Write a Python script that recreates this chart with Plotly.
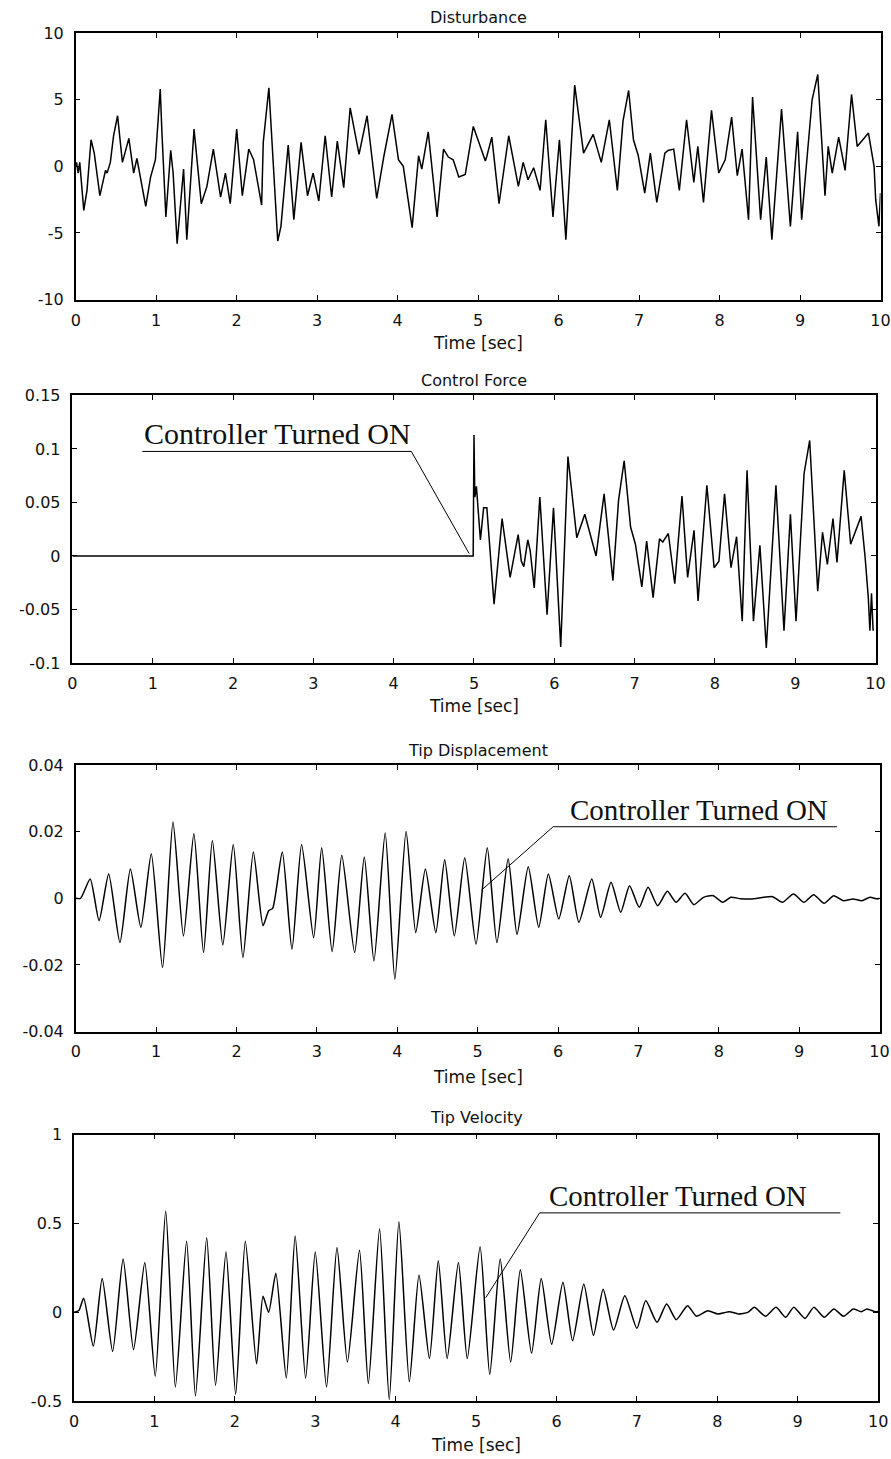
import plotly.graph_objects as go

# ---------------- data ----------------
time_ticks = [0, 1, 2, 3, 4, 5, 6, 7, 8, 9, 10]
time_tick_labels = ["0", "1", "2", "3", "4", "5", "6", "7", "8", "9", "10"]

dist_ticks = [10, 5, 0, -5, -10]
dist_tick_labels = ["10", "5", "0", "-5", "-10"]
force_ticks = [0.15, 0.1, 0.05, 0, -0.05, -0.1]
force_tick_labels = ["0.15", "0.1", "0.05", "0", "-0.05", "-0.1"]
disp_ticks = [0.04, 0.02, 0, -0.02, -0.04]
disp_tick_labels = ["0.04", "0.02", "0", "-0.02", "-0.04"]
vel_ticks = [1, 0.5, 0, -0.5]
vel_tick_labels = ["1", "0.5", "0", "-0.5"]

titles = ["Disturbance", "Control Force", "Tip Displacement", "Tip Velocity"]
x_title = "Time [sec]"
note_text = "Controller Turned ON"

dist_t = [0, 0.01, 0.03, 0.05, 0.10, 0.14, 0.19, 0.23, 0.30, 0.37, 0.39, 0.43, 0.47, 0.52, 0.58,
          0.66, 0.72, 0.76, 0.87, 0.93, 0.99, 1.02, 1.05, 1.07, 1.12, 1.18, 1.21, 1.26, 1.34, 1.38,
          1.47, 1.56, 1.63, 1.71, 1.80, 1.86, 1.92, 2.00, 2.07, 2.15, 2.21, 2.31, 2.33, 2.40, 2.48,
          2.51, 2.55, 2.64, 2.71, 2.80, 2.88, 2.95, 3.02, 3.10, 3.18, 3.25, 3.33, 3.41, 3.52, 3.62,
          3.74, 3.83, 3.93, 4.01, 4.07, 4.18, 4.26, 4.30, 4.38, 4.49, 4.57, 4.63, 4.69, 4.76, 4.84,
          4.94, 5.09, 5.11, 5.17, 5.26, 5.38, 5.50, 5.56, 5.62, 5.69, 5.77, 5.84, 5.93, 6.01, 6.09,
          6.20, 6.31, 6.43, 6.53, 6.63, 6.66, 6.73, 6.80, 6.87, 6.93, 6.99, 7.07, 7.14, 7.22, 7.32,
          7.36, 7.43, 7.50, 7.59, 7.68, 7.73, 7.80, 7.90, 7.99, 8.07, 8.15, 8.22, 8.28, 8.36, 8.41,
          8.51, 8.58, 8.65, 8.77, 8.88, 8.97, 9.02, 9.15, 9.22, 9.31, 9.35, 9.40, 9.48, 9.56, 9.64,
          9.71, 9.81, 9.85, 9.92, 9.94, 9.98, 10.0]
dist_v = [0, 0.3, -0.5, 0.3, -3.3, -1.8, 2.0, 1.0, -2.2, -0.3, -0.5, 0.3, 2.3, 3.8, 0.3,
          2.1, -0.5, 0.6, -3.0, -0.8, 0.5, 3.0, 5.8, 2.7, -3.8, 1.2, -0.5, -5.8, -0.2, -5.5,
          2.8, -2.8, -1.5, 1.3, -2.3, -0.5, -2.8, 2.8, -2.2, 1.3, 0.5, -2.9, 1.8, 5.9, -3.0,
          -5.6, -4.5, 1.6, -4.0, 1.8, -2.2, -0.5, -2.6, 2.3, -2.3, 1.9, -1.6, 4.4, 0.9, 3.8,
          -2.4, 0.8, 3.9, 0.5, 0.0, -4.6, 0.8, -0.2, 2.6, -3.8, 1.3, 0.7, 0.5, -0.8, -0.6,
          3.0, 0.4, 0.8, 2.2, -2.8, 2.3, -1.5, 0.3, -1.0, -0.1, -1.8, 3.5, -3.8, 2.0, -5.5,
          6.1, 1.0, 2.4, 0.3, 3.5, 2.0, -1.8, 3.4, 5.7, 2.0, 0.8, -2.0, 1.0, -2.7, 1.0,
          1.2, 1.3, -1.8, 3.5, -1.2, 1.5, -2.7, 4.2, -0.5, 0.5, 3.7, -0.7, 1.3, -4.0, 5.2,
          -4.0, 0.7, -5.5, 4.3, -4.5, 2.6, -4.0, 5.0, 6.9, -2.2, 1.5, -0.5, 2.2, -0.3, 5.4,
          1.5, 2.2, 2.5, 0.0, -2.5, -4.5, -2.0]

force_t = [0, 4.99, 5.00, 5.01, 5.03, 5.08, 5.12, 5.16, 5.25, 5.35, 5.45, 5.49, 5.55, 5.59, 5.62,
           5.67, 5.70, 5.75, 5.82, 5.91, 5.99, 6.08, 6.17, 6.28, 6.38, 6.52, 6.62, 6.73, 6.80, 6.87,
           6.95, 7.01, 7.09, 7.15, 7.23, 7.31, 7.35, 7.42, 7.50, 7.59, 7.66, 7.74, 7.79, 7.90, 7.99,
           8.05, 8.12, 8.20, 8.27, 8.34, 8.40, 8.48, 8.56, 8.64, 8.76, 8.86, 8.94, 9.01, 9.11, 9.18,
           9.28, 9.34, 9.40, 9.47, 9.52, 9.61, 9.69, 9.82, 9.87, 9.91, 9.93, 9.95, 9.97]
force_v = [0, 0, 0.113, 0.055, 0.065, 0.015, 0.045, 0.045, -0.045, 0.035, -0.02, -0.005, 0.02, -0.005, -0.01,
           0.015, 0.005, -0.03, 0.055, -0.055, 0.045, -0.085, 0.093, 0.017, 0.039, 0.0, 0.058, -0.023, 0.052, 0.089,
           0.027, 0.011, -0.029, 0.014, -0.039, 0.016, 0.013, 0.021, -0.026, 0.056, -0.02, 0.024, -0.042, 0.066, -0.011,
           -0.005, 0.058, -0.011, 0.018, -0.061, 0.08, -0.061, 0.01, -0.086, 0.066, -0.07, 0.039, -0.061, 0.077, 0.108,
           -0.033, 0.022, -0.008, 0.035, -0.006, 0.08, 0.011, 0.037, -0.001, -0.039, -0.07, -0.035, -0.07]

disp_t = [0, 0.06, 0.18, 0.29, 0.41, 0.55, 0.68, 0.81, 0.94, 1.08, 1.21, 1.34, 1.47, 1.59, 1.70,
          1.83, 1.96, 2.08, 2.21, 2.33, 2.40, 2.45, 2.57, 2.69, 2.81, 2.96, 3.06, 3.19, 3.31, 3.47,
          3.59, 3.71, 3.85, 3.97, 4.11, 4.23, 4.35, 4.48, 4.59, 4.71, 4.84, 4.98, 5.12, 5.24, 5.38,
          5.49, 5.63, 5.76, 5.88, 6.01, 6.14, 6.26, 6.42, 6.53, 6.66, 6.78, 6.89, 7.01, 7.12, 7.24,
          7.36, 7.47, 7.58, 7.69, 7.81, 7.93, 8.05, 8.15, 8.27, 8.40, 8.56, 8.67, 8.79, 8.93, 9.06,
          9.18, 9.31, 9.43, 9.55, 9.67, 9.78, 9.88, 9.97, 10.0]
disp_v = [0, 0.0, 0.0058, -0.0067, 0.0073, -0.0133, 0.0088, -0.0087, 0.0134, -0.0208, 0.0229, -0.0113, 0.0194, -0.0163, 0.0174,
          -0.014, 0.0162, -0.0178, 0.0139, -0.0082, -0.0037, -0.003, 0.0139, -0.0153, 0.0162, -0.0118, 0.0152, -0.016, 0.0129, -0.0163,
          0.0124, -0.0188, 0.0196, -0.0243, 0.0201, -0.0103, 0.0088, -0.0103, 0.0116, -0.0113, 0.0122, -0.0138, 0.0152, -0.0133, 0.0119,
          -0.0108, 0.0095, -0.0087, 0.0073, -0.0062, 0.0068, -0.0072, 0.0058, -0.0057, 0.0048, -0.0042, 0.0038, -0.0027, 0.0033, -0.0022,
          0.0021, -0.0012, 0.0015, -0.0019, 0.0003, 0.0008, -0.0012, 0.0003, -0.0001, -0.0002, 0.0003, 0.0005, -0.0012, 0.0013, -0.0012,
          0.0011, -0.0015, 0.0008, -0.0007, -0.0002, -0.0007, 0.0003, -0.0002, 0.0]

vel_t = [0, 0.06, 0.12, 0.24, 0.35, 0.48, 0.61, 0.74, 0.88, 1.01, 1.14, 1.26, 1.40, 1.51, 1.65,
         1.76, 1.89, 2.01, 2.13, 2.27, 2.35, 2.42, 2.51, 2.64, 2.75, 2.88, 3.00, 3.14, 3.27, 3.40,
         3.55, 3.66, 3.80, 3.92, 4.04, 4.17, 4.29, 4.42, 4.53, 4.64, 4.78, 4.89, 5.05, 5.17, 5.30,
         5.43, 5.55, 5.69, 5.81, 5.94, 6.08, 6.20, 6.34, 6.46, 6.58, 6.71, 6.85, 7.00, 7.11, 7.25,
         7.37, 7.49, 7.63, 7.74, 7.88, 8.01, 8.15, 8.26, 8.38, 8.46, 8.60, 8.73, 8.85, 8.95, 9.09,
         9.20, 9.33, 9.45, 9.57, 9.69, 9.79, 9.86, 9.96, 10.0]
vel_v = [0, 0.01, 0.08, -0.19, 0.19, -0.22, 0.30, -0.21, 0.28, -0.36, 0.57, -0.42, 0.40, -0.47, 0.42,
         -0.41, 0.34, -0.46, 0.40, -0.29, 0.09, 0.0, 0.22, -0.37, 0.43, -0.37, 0.34, -0.42, 0.365, -0.28,
         0.35, -0.40, 0.47, -0.49, 0.51, -0.39, 0.21, -0.26, 0.29, -0.26, 0.28, -0.26, 0.37, -0.35, 0.30,
         -0.28, 0.24, -0.23, 0.19, -0.18, 0.17, -0.16, 0.16, -0.13, 0.13, -0.10, 0.094, -0.09, 0.066, -0.056,
         0.047, -0.041, 0.037, -0.022, 0.009, -0.009, 0.004, -0.009, 0.0, 0.028, -0.022, 0.028, -0.028, 0.028, -0.034,
         0.028, -0.028, 0.019, -0.022, 0.019, 0.004, 0.019, 0.004, 0.005]

# ---------------- layout helpers ----------------
W, H = 891, 1459
# the photographed page is offset/scaled slightly relative to the figure;
# these constants map target-picture pixels back to figure pixels
SX, OX = 0.9855, 4.1
SY, OY = 0.988, 8.1


def fx(px):
    return ((px - OX) / SX) / W


def fy(py):
    return 1 - ((py - OY) / SY) / H


# plot-area boxes in target pixels: (left, right, top, bottom)
boxes = [(75, 881.7, 32.3, 299), (71.7, 876.7, 395, 662.7),
         (75, 880.7, 765, 1031.7), (73.3, 879.3, 1135, 1401.7)]
title_y = [17, 380, 750, 1118]
xlabel_y = [342, 706, 1077, 1446]
y_ranges = [[-10, 10], [-0.1, 0.15], [-0.04, 0.04], [-0.5, 1]]
y_ticks = [(dist_ticks, dist_tick_labels), (force_ticks, force_tick_labels),
           (disp_ticks, disp_tick_labels), (vel_ticks, vel_tick_labels)]
series = [(dist_t, dist_v, "linear"), (force_t, force_v, "linear"),
          (disp_t, disp_v, "spline"), (vel_t, vel_v, "spline")]

sans = "DejaVu Sans, Arial, sans-serif"
serif = "Liberation Serif, Times New Roman, serif"

fig = go.Figure()
layout = dict(width=W, height=H, margin=dict(l=0, r=0, t=0, b=0),
              paper_bgcolor="white", plot_bgcolor="white", showlegend=False,
              annotations=[], shapes=[])

axis_common = dict(showline=True, linecolor="black", linewidth=1.5, mirror="allticks",
                   ticks="inside", ticklen=5, tickwidth=1, tickcolor="black",
                   showgrid=False, zeroline=False, ticklabeloverflow="allow",
                   tickfont=dict(family=sans, size=16, color="#111111"))

for i in range(4):
    n = "" if i == 0 else str(i + 1)
    L, R, T, B = boxes[i]
    t, v, shape = series[i]
    fig.add_trace(go.Scatter(x=t, y=v, mode="lines", xaxis="x" + n, yaxis="y" + n,
                             line=dict(color="black", width=1.5, shape=shape, smoothing=0.6),
                             hoverinfo="skip"))
    layout["xaxis" + n] = dict(axis_common, domain=[fx(L), fx(R)], range=[0, 10],
                               anchor="y" + n, tickvals=time_ticks, ticktext=time_tick_labels,
                               ticklabelstandoff=5)
    layout["yaxis" + n] = dict(axis_common, domain=[fy(B), fy(T)], range=y_ranges[i],
                               anchor="x" + n, tickvals=y_ticks[i][0], ticktext=y_ticks[i][1],
                               ticklabelstandoff=7)
    layout["annotations"].append(dict(text=titles[i], xref="paper", yref="paper",
                                      x=fx((L + R) / 2), y=fy(title_y[i]), xanchor="center",
                                      yanchor="middle", showarrow=False,
                                      font=dict(family=sans, size=16, color="#111111")))
    layout["annotations"].append(dict(text=x_title, xref="paper", yref="paper",
                                      x=fx((L + R) / 2), y=fy(xlabel_y[i]), xanchor="center",
                                      yanchor="middle", showarrow=False,
                                      font=dict(family=sans, size=17, color="#111111")))

# "Controller Turned ON" notes with leader lines
notes = [("x2", "y2", 0.873, 0.0977, 30, "M 0.87,0.0977 L 4.22,0.0977 L 4.94,0.0022"),
         ("x3", "y3", 6.14, 0.0215, 29, "M 5.94,0.0215 L 9.47,0.0215 M 5.94,0.0215 L 5.05,0.0025"),
         ("x4", "y4", 5.89, 0.56, 29, "M 5.79,0.56 L 9.53,0.56 M 5.79,0.56 L 5.12,0.082")]
for xr, yr, tx, ty, fs, path in notes:
    layout["annotations"].append(dict(text=note_text, xref=xr, yref=yr, x=tx, y=ty,
                                      xanchor="left", yanchor="bottom", showarrow=False,
                                      borderpad=0,
                                      font=dict(family=serif, size=fs, color="#111111")))
    layout["shapes"].append(dict(type="path", xref=xr, yref=yr, path=path,
                                 line=dict(color="black", width=1)))

fig.update_layout(**layout)
fig.write_html("out.html")
